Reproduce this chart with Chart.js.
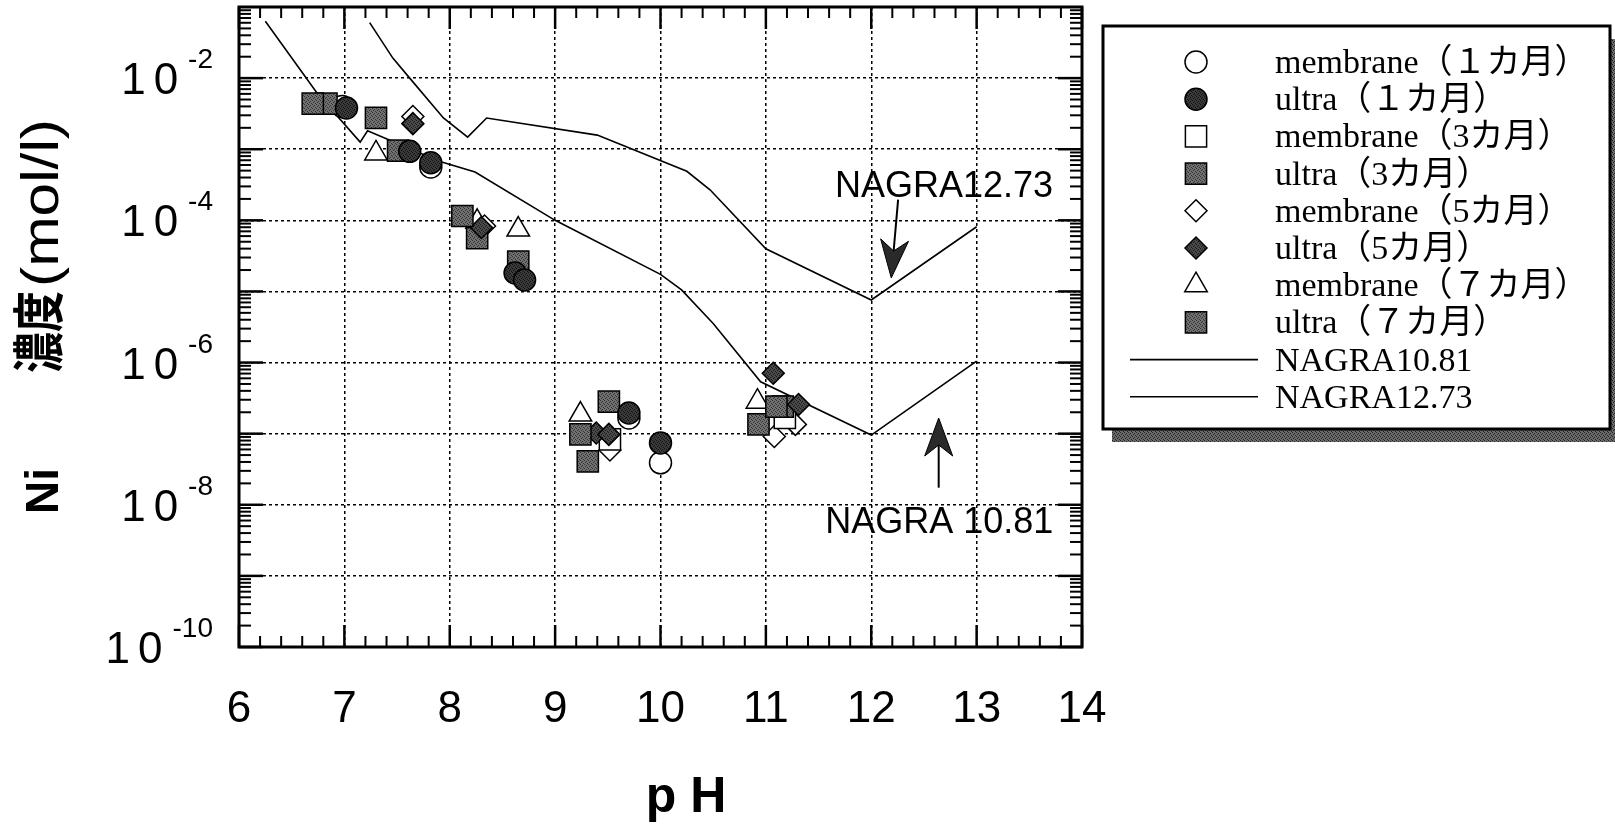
<!DOCTYPE html>
<html>
<head>
<meta charset="utf-8">
<script src="https://cdn.jsdelivr.net/npm/chart.js@4.4.0/dist/chart.umd.min.js"></script>
<style>
  html, body { margin: 0; padding: 0; background: #fff; }
  canvas { display: block; }
</style>
</head>
<body>
<canvas id="c" width="1615" height="832"></canvas>
<script>
// axis ticks
const pHTicks = [6, 7, 8, 9, 10, 11, 12, 13, 14];
const decades = [1e-10, 1e-9, 1e-8, 1e-7, 1e-6, 1e-5, 1e-4, 1e-3, 1e-2, 1e-1];
const yLabelExp = [-2, -4, -6, -8, -10];

// measured points: [pH, Ni mol/l]
const membrane1 = [[6.98, 3.98e-3], [7.82, 5.62e-4], [9.70, 1.66e-7], [10.0, 3.89e-8]];
const ultra1 = [[7.02, 3.80e-3], [7.62, 9.33e-4], [7.82, 6.46e-4], [8.62, 1.82e-5], [8.71, 1.45e-5], [9.70, 1.95e-7], [10.0, 7.41e-8]];
const membrane3 = [[9.52, 8.32e-8], [11.18, 1.66e-7]];
const ultra3 = [[6.70, 4.37e-3], [7.30, 2.75e-3], [8.12, 1.15e-4], [8.65, 2.63e-5], [9.24, 9.77e-8], [9.51, 2.82e-7], [10.93, 1.35e-7], [11.10, 2.40e-7]];
const membrane5 = [[7.65, 2.88e-3], [8.33, 8.32e-5], [9.52, 5.89e-8], [11.08, 9.12e-8], [11.28, 1.35e-7]];
const ultra5 = [[7.65, 2.29e-3], [8.30, 7.94e-5], [9.39, 1.02e-7], [9.51, 9.77e-8], [11.07, 7.08e-7], [11.31, 2.57e-7]];
const membrane7 = [[7.30, 8.71e-4], [8.26, 9.55e-5], [8.65, 7.41e-5], [9.24, 1.86e-7], [10.92, 2.82e-7]];
const ultra7 = [[6.83, 4.37e-3], [7.51, 9.55e-4], [8.26, 5.62e-5], [9.31, 4.07e-8], [11.16, 2.40e-7]];

// NAGRA solubility curves
const nagra1081pH = [6.25, 6.74, 7.15, 7.22, 7.9, 8.24, 9.0, 10.0, 10.2, 10.5, 10.95, 12.0, 13.0];
const nagra1081Ni = [6.31e-2, 6.17e-3, 1.26e-3, 1.82e-3, 6.76e-4, 4.79e-4, 1.0e-4, 1.74e-5, 1.05e-5, 3.55e-6, 5.37e-7, 9.55e-8, 1.05e-6];
const nagra1273pH = [7.24, 7.46, 7.62, 7.94, 8.17, 8.35, 9.4, 10.25, 10.47, 11.0, 12.0, 13.0];
const nagra1273Ni = [6.03e-2, 1.91e-2, 1.0e-2, 2.75e-3, 1.48e-3, 2.75e-3, 1.58e-3, 4.90e-4, 2.69e-4, 3.98e-5, 7.59e-6, 8.13e-5];

// callouts: text baseline position and arrow tail -> tip
const notes = [
  { text: 'NAGRA12.73', x: 12.69, y: 2.15e-4, from: [12.255, 1.95e-4], to: [12.19, 1.55e-5] },
  { text: 'NAGRA 10.81', x: 12.645, y: 4.04e-9, from: [12.64, 1.74e-8], to: [12.64, 1.66e-7] }
];

const SANS = '"Liberation Sans", Arial, Helvetica, sans-serif';
const SERIF = '"Liberation Serif", "Times New Roman", "Noto Sans CJK JP", serif';

const canvas = document.getElementById('c');
const mainCtx = canvas.getContext('2d');

function stipple(base, dot) {
  const c = document.createElement('canvas');
  c.width = 4; c.height = 4;
  const g = c.getContext('2d');
  g.fillStyle = base; g.fillRect(0, 0, 4, 4);
  g.fillStyle = dot;
  [[0, 0], [2, 1], [1, 2], [3, 3]].forEach(([i, j]) => g.fillRect(i, j, 1, 1));
  return mainCtx.createPattern(c, 'repeat');
}

const darkFill = stipple('#3a3a3a', '#111');
const grayFill = stipple('#707070', '#333');
const diaFill = stipple('#4a4a4a', '#1a1a1a');
const shadowFill = stipple('#6a6a6a', '#222');

function pts(arr) { return arr.map(p => ({ x: p[0], y: p[1] })); }
function zip(xs, ys) { return xs.map((v, i) => ({ x: v, y: ys[i] })); }

function markers(label, data, style, fill, radius, order) {
  return {
    type: 'scatter', label, data: pts(data),
    pointStyle: style, pointRadius: radius, pointHoverRadius: radius,
    pointBackgroundColor: fill, pointBorderColor: '#000', pointBorderWidth: 1.5,
    order
  };
}

function curve(label, data) {
  return {
    type: 'line', label, data, showLine: true,
    borderColor: '#000', borderWidth: 1.6, pointRadius: 0, tension: 0, fill: false,
    order: 5
  };
}

function drawMarker(ctx, style, x, y, r, fill) {
  ctx.beginPath();
  if (style === 'circle') {
    ctx.arc(x, y, r, 0, Math.PI * 2);
  } else if (style === 'rect') {
    const s = r * Math.SQRT1_2;
    ctx.rect(x - s, y - s, 2 * s, 2 * s);
  } else if (style === 'rectRot') {
    ctx.moveTo(x, y - r); ctx.lineTo(x + r, y); ctx.lineTo(x, y + r); ctx.lineTo(x - r, y);
    ctx.closePath();
  } else if (style === 'triangle') {
    ctx.moveTo(x, y - r); ctx.lineTo(x + r * 0.866, y + r * 0.5); ctx.lineTo(x - r * 0.866, y + r * 0.5);
    ctx.closePath();
  }
  ctx.fillStyle = fill;
  ctx.fill();
  ctx.lineWidth = 1.5;
  ctx.strokeStyle = '#000';
  ctx.stroke();
}

function arrow(ctx, x1, y1, x2, y2) {
  const a = Math.atan2(y2 - y1, x2 - x1);
  const c = Math.cos(a), s = Math.sin(a);
  const L = 38, W = 14, N = 27;
  ctx.beginPath();
  ctx.moveTo(x1, y1);
  ctx.lineTo(x2 - N * c, y2 - N * s);
  ctx.lineWidth = 2;
  ctx.stroke();
  ctx.beginPath();
  ctx.moveTo(x2, y2);
  ctx.lineTo(x2 - L * c - W * s, y2 - L * s + W * c);
  ctx.lineTo(x2 - N * c, y2 - N * s);
  ctx.lineTo(x2 - L * c + W * s, y2 - L * s - W * c);
  ctx.closePath();
  ctx.fillStyle = '#2a2a2a';
  ctx.fill();
  ctx.lineWidth = 1;
  ctx.stroke();
}

// frame and inward ticks on all four sides
const axisDecor = {
  id: 'axisDecor',
  afterDatasetsDraw(chart) {
    const { ctx, chartArea: a, scales: { x, y } } = chart;
    ctx.save();
    ctx.strokeStyle = '#000';
    const seg = (x1, y1, x2, y2, w) => {
      ctx.lineWidth = w;
      ctx.beginPath(); ctx.moveTo(x1, y1); ctx.lineTo(x2, y2); ctx.stroke();
    };
    for (let i = 0; i <= 40; i++) {
      const px = x.getPixelForValue(6 + i * 0.2);
      const major = i % 5 === 0;
      const len = major ? 22 : 11;
      seg(px, a.bottom, px, a.bottom - len, major ? 2.5 : 2);
      seg(px, a.top, px, a.top + len, major ? 2.5 : 2);
    }
    for (let e = -10; e < -1; e++) {
      for (let m = 1; m < 10; m++) {
        const py = y.getPixelForValue(m * Math.pow(10, e));
        const len = m === 1 ? 24 : 12;
        seg(a.left, py, a.left + len, py, m === 1 ? 2.5 : 2);
        seg(a.right, py, a.right - len, py, m === 1 ? 2.5 : 2);
      }
    }
    ctx.lineWidth = 3;
    ctx.strokeRect(a.left, a.top, a.right - a.left, a.bottom - a.top);
    ctx.restore();
  }
};

// y tick labels with exponents, axis titles, callouts
const textLayer = {
  id: 'textLayer',
  afterDraw(chart) {
    const { ctx, scales: { x, y } } = chart;
    ctx.save();
    ctx.fillStyle = '#000';
    ctx.textBaseline = 'alphabetic';
    ctx.textAlign = 'left';
    yLabelExp.forEach(e => {
      const py = y.getPixelForValue(Math.pow(10, e));
      const sup = '-' + (-e);
      ctx.font = '28px ' + SANS;
      const supStart = 213 - ctx.measureText(sup).width;
      ctx.fillText(sup, supStart, py - 10);
      ctx.font = '44px ' + SANS;
      const w1 = ctx.measureText('1').width;
      const w0 = ctx.measureText('0').width;
      const x0 = supStart - 10 - w0;
      ctx.fillText('0', x0, py + 16);
      ctx.fillText('1', x0 - 8 - w1, py + 16);
    });

    // rotated y title, drawn in pieces
    const pieces = [
      { t: 'Ni', font: 'bold 46px ' + SANS, c: 491, len: 46 },
      { t: '濃度', font: 'bold 52px "Noto Sans CJK JP", sans-serif', c: 332, len: 82 },
      { t: '(mol/l)', font: '52px ' + SANS, c: 203, len: 168 }
    ];
    pieces.forEach(p => {
      ctx.save();
      ctx.translate(58, p.c);
      ctx.rotate(-Math.PI / 2);
      ctx.font = p.font;
      ctx.textAlign = 'center';
      const w = ctx.measureText(p.t).width;
      ctx.scale(p.len / w, 1);
      ctx.fillText(p.t, 0, 0);
      ctx.restore();
    });

    // x title
    ctx.textAlign = 'center';
    ctx.font = 'bold 50px ' + SANS;
    ctx.fillText('p H', 686, 812);

    // callouts
    ctx.strokeStyle = '#000';
    notes.forEach(n => {
      ctx.font = '36px ' + SANS;
      ctx.fillStyle = '#000';
      ctx.fillText(n.text, x.getPixelForValue(n.x), y.getPixelForValue(n.y));
      arrow(ctx, x.getPixelForValue(n.from[0]), y.getPixelForValue(n.from[1]),
        x.getPixelForValue(n.to[0]), y.getPixelForValue(n.to[1]));
    });
    ctx.restore();
  }
};

// boxed legend with drop shadow
const legendBox = {
  id: 'legendBox',
  afterDraw(chart) {
    const ctx = chart.ctx;
    const L = 1103, T = 26, R = 1610, B = 429;
    ctx.save();
    ctx.fillStyle = shadowFill;
    ctx.fillRect(L + 9, T + 13, R - L, B - T);
    ctx.fillStyle = '#fff';
    ctx.fillRect(L, T, R - L, B - T);
    ctx.strokeStyle = '#000';
    ctx.lineWidth = 3;
    ctx.strokeRect(L, T, R - L, B - T);
    ctx.font = '34px ' + SERIF;
    ctx.textAlign = 'left';
    ctx.textBaseline = 'middle';
    chart.data.datasets.forEach((ds, i) => {
      const cy = 62 + i * 37.2;
      if (ds.type === 'line') {
        ctx.lineWidth = 1.6;
        ctx.beginPath(); ctx.moveTo(1130, cy); ctx.lineTo(1258, cy); ctx.stroke();
      } else {
        drawMarker(ctx, ds.pointStyle, 1196, cy, ds.pointRadius, ds.pointBackgroundColor);
      }
      ctx.fillStyle = '#000';
      ctx.fillText(ds.label, 1275, cy + 2);
    });
    ctx.restore();
  }
};

new Chart(canvas, {
  type: 'scatter',
  data: {
    datasets: [
      markers('membrane（１カ月）', membrane1, 'circle', '#fff', 11, 2),
      markers('ultra（１カ月）', ultra1, 'circle', darkFill, 11, 1),
      markers('membrane（3カ月）', membrane3, 'rect', '#fff', 15, 2),
      markers('ultra（3カ月）', ultra3, 'rect', grayFill, 15, 1),
      markers('membrane（5カ月）', membrane5, 'rectRot', '#fff', 11, 2),
      markers('ultra（5カ月）', ultra5, 'rectRot', diaFill, 11, 1),
      markers('membrane（７カ月）', membrane7, 'triangle', '#fff', 13, 2),
      markers('ultra（７カ月）', ultra7, 'rect', grayFill, 15, 1),
      curve('NAGRA10.81', zip(nagra1081pH, nagra1081Ni)),
      curve('NAGRA12.73', zip(nagra1273pH, nagra1273Ni))
    ]
  },
  options: {
    responsive: false,
    animation: false,
    events: [],
    layout: { autoPadding: false, padding: { left: 0, top: 7, right: 533, bottom: 0 } },
    plugins: {
      legend: { display: false },
      tooltip: { enabled: false }
    },
    scales: {
      x: {
        type: 'linear',
        min: 6,
        max: 14,
        afterBuildTicks: s => { s.ticks = pHTicks.map(v => ({ value: v })); },
        afterFit: s => { s.height = 185; },
        ticks: {
          color: '#000',
          font: { family: SANS, size: 44 },
          padding: 36,
          maxRotation: 0,
          autoSkip: false
        },
        grid: { color: '#000', lineWidth: 1.5, drawTicks: false },
        border: { display: false, dash: [3, 3] }
      },
      y: {
        type: 'logarithmic',
        min: 1e-10,
        max: 1e-1,
        afterBuildTicks: s => { s.ticks = decades.map(v => ({ value: v })); },
        afterFit: s => { s.width = 239; },
        ticks: { display: false },
        grid: { color: '#000', lineWidth: 1.5, drawTicks: false },
        border: { display: false, dash: [3, 3] }
      }
    }
  },
  plugins: [axisDecor, textLayer, legendBox]
});
</script>
</body>
</html>
